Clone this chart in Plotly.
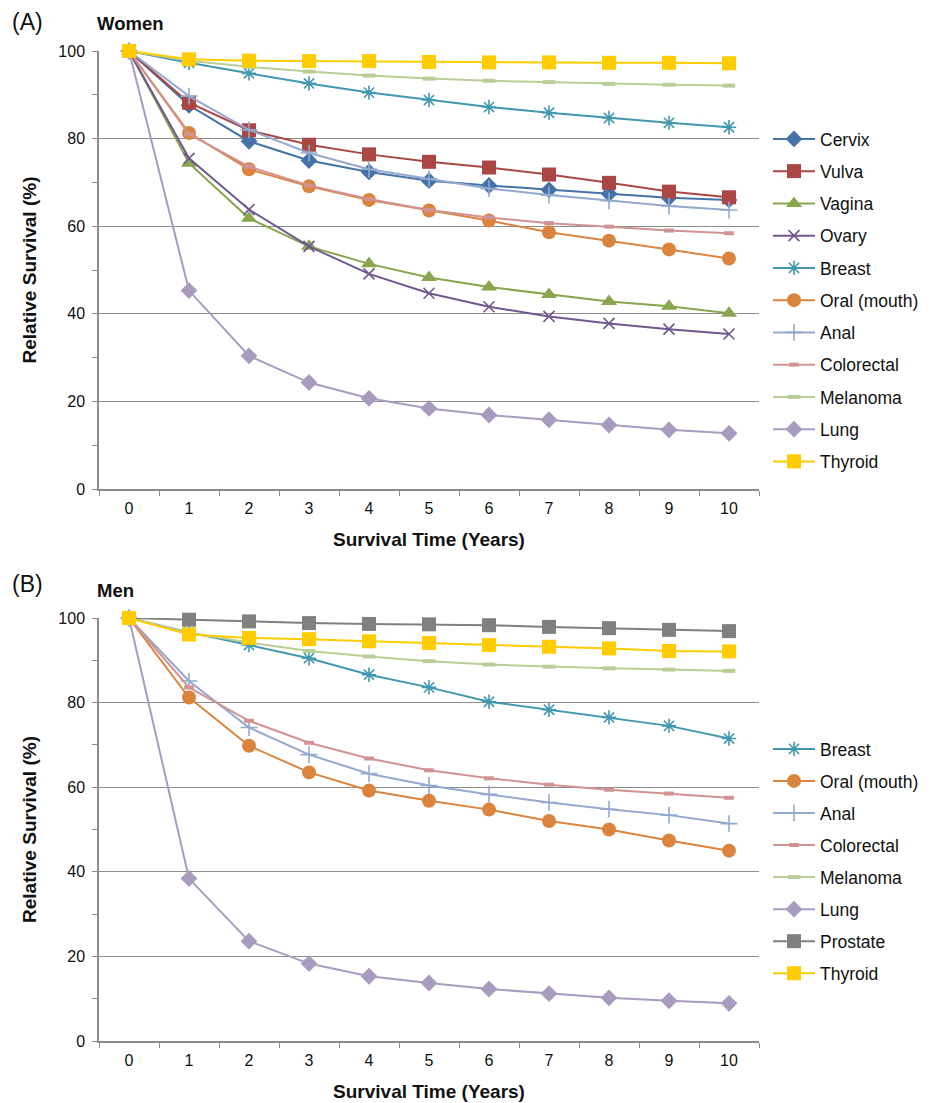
import plotly.graph_objects as go

years = ["0", "1", "2", "3", "4", "5", "6", "7", "8", "9", "10"]

# Women (panel A)
w_cervix = [100, 87.6, 79.4, 75.0, 72.4, 70.4, 69.3, 68.3, 67.4, 66.5, 66.0]
w_vulva = [100, 88.2, 81.9, 78.6, 76.4, 74.7, 73.4, 71.8, 69.9, 67.9, 66.6]
w_vagina = [100, 74.4, 61.8, 55.4, 51.4, 48.3, 46.1, 44.4, 42.8, 41.7, 40.1]
w_ovary = [100, 75.5, 63.8, 55.4, 49.1, 44.7, 41.6, 39.4, 37.8, 36.5, 35.4]
w_breast = [100, 97.3, 94.9, 92.6, 90.5, 88.8, 87.2, 85.9, 84.7, 83.6, 82.6]
w_oral = [100, 81.3, 73.0, 69.1, 66.0, 63.6, 61.3, 58.6, 56.7, 54.7, 52.6]
w_anal = [100, 89.7, 82.0, 76.7, 73.0, 70.8, 68.6, 67.1, 65.8, 64.6, 63.7]
w_colorectal = [100, 81.0, 73.6, 69.3, 66.2, 63.7, 62.0, 60.7, 59.9, 59.0, 58.4]
w_melanoma = [100, 97.8, 96.4, 95.3, 94.4, 93.7, 93.2, 92.9, 92.5, 92.3, 92.1]
w_lung = [100, 45.3, 30.4, 24.3, 20.7, 18.4, 16.9, 15.8, 14.6, 13.5, 12.7]
w_thyroid = [100, 98.1, 97.8, 97.7, 97.7, 97.5, 97.4, 97.4, 97.3, 97.3, 97.2]

# Men (panel B)
m_breast = [100, 96.6, 93.6, 90.5, 86.6, 83.6, 80.2, 78.3, 76.5, 74.5, 71.5]
m_oral = [100, 81.2, 69.8, 63.5, 59.2, 56.8, 54.7, 52.0, 50.0, 47.4, 45.0]
m_anal = [100, 85.1, 74.1, 67.7, 63.2, 60.4, 58.3, 56.4, 54.8, 53.4, 51.4]
m_colorectal = [100, 83.6, 75.7, 70.5, 66.8, 64.0, 62.1, 60.6, 59.4, 58.5, 57.5]
m_melanoma = [100, 96.5, 94.2, 92.2, 90.9, 89.8, 89.0, 88.5, 88.1, 87.8, 87.5]
m_lung = [100, 38.4, 23.6, 18.3, 15.3, 13.7, 12.3, 11.2, 10.2, 9.5, 8.9]
m_prostate = [100, 99.6, 99.2, 98.8, 98.6, 98.5, 98.3, 97.9, 97.6, 97.2, 96.9]
m_thyroid = [100, 96.1, 95.3, 95.0, 94.5, 94.1, 93.6, 93.2, 92.8, 92.2, 92.1]

# name -> color, symbol, size, marker line width
styles = {
    "Cervix": ("#4573A7", "diamond", 13, 0),
    "Vulva": ("#AA4643", "square", 14, 0),
    "Vagina": ("#89A54E", "triangle-up", 14, 0),
    "Ovary": ("#71588F", "x-thin-open", 11, 1.6),
    "Breast": ("#4198AF", "asterisk-open", 12, 1.6),
    "Oral (mouth)": ("#DB843D", "circle", 14, 0),
    "Anal": ("#93A9CF", "cross-thin-open", 12, 1.6),
    "Colorectal": ("#D19392", "line-ew-open", 7, 4),
    "Melanoma": ("#B9CD96", "line-ew-open", 9, 4),
    "Lung": ("#A99BBD", "diamond", 13, 0),
    "Prostate": ("#808080", "square", 14, 0),
    "Thyroid": ("#FFCC00", "square", 14, 0),
}

women = [("Cervix", w_cervix), ("Vulva", w_vulva), ("Vagina", w_vagina), ("Ovary", w_ovary),
         ("Breast", w_breast), ("Oral (mouth)", w_oral), ("Anal", w_anal),
         ("Colorectal", w_colorectal), ("Melanoma", w_melanoma), ("Lung", w_lung),
         ("Thyroid", w_thyroid)]
men = [("Breast", m_breast), ("Oral (mouth)", m_oral), ("Anal", m_anal),
       ("Colorectal", m_colorectal), ("Melanoma", m_melanoma), ("Lung", m_lung),
       ("Prostate", m_prostate), ("Thyroid", m_thyroid)]

FONT = "Liberation Sans, Arial, Helvetica, sans-serif"
fig = go.Figure()

def add(series, xa, ya, leg, grp):
    for name, vals in series:
        color, sym, size, lw = styles[name]
        fig.add_trace(go.Scatter(
            x=years, y=vals, name=name, mode="lines+markers",
            xaxis=xa, yaxis=ya, legend=leg, legendgroup=grp + name,
            line=dict(color=color, width=2),
            marker=dict(color=color, symbol=sym, size=size,
                        line=dict(color=color, width=lw)),
            cliponaxis=False,
        ))

add(women, "x", "y", "legend", "w")
add(men, "x2", "y2", "legend2", "m")

W = 937.0
H = 1103.0
OFF = 8  # page body margin offset

def ydom(top_px, bot_px):
    return [1 - (bot_px - OFF) / H, 1 - (top_px - OFF) / H]

def px(xp):
    return (xp - OFF) / W

def py(yp):
    return 1 - (yp - OFF) / H

grid = "#8c8c8c"
xcommon = dict(type="category", tickson="boundaries", ticks="outside", ticklen=5,
               tickcolor=grid, showline=True, linecolor=grid, linewidth=1.5,
               showgrid=False, automargin=False, ticklabelstandoff=4,
               tickfont=dict(size=16, color="#111", family=FONT),
               range=[-0.5, 10.5], domain=[px(99), px(759)],
               title=dict(text="<b>Survival Time (Years)</b>", standoff=17,
                          font=dict(size=19, color="#111", family=FONT)))
ycommon = dict(range=[0, 100], dtick=20, tick0=0, ticks="outside", ticklen=5,
               tickcolor=grid, showline=True, linecolor=grid, linewidth=1.5,
               showgrid=True, gridcolor=grid, gridwidth=1.3, zeroline=False,
               automargin=False, ticklabelstandoff=4,
               minor=dict(dtick=10, ticks="outside", ticklen=5, tickcolor=grid, showgrid=False),
               tickfont=dict(size=16, color="#111", family=FONT),
               title=dict(text="<b>Relative Survival (%)</b>", standoff=17,
                          font=dict(size=19, color="#111", family=FONT)))

legfont = dict(size=17.5, family=FONT, color="#111")
fig.update_layout(
    width=937, height=1103,
    paper_bgcolor="white", plot_bgcolor="white",
    margin=dict(l=0, r=0, t=0, b=0, autoexpand=False),
    font=dict(family=FONT, color="#111"),
    xaxis=dict(**xcommon, anchor="y"),
    yaxis=dict(**ycommon, anchor="x", domain=ydom(51, 489)),
    xaxis2=dict(**xcommon, anchor="y2"),
    yaxis2=dict(**ycommon, anchor="x2", domain=ydom(618, 1041)),
    legend=dict(x=px(768), y=py(121), xanchor="left", yanchor="top",
                traceorder="grouped", tracegroupgap=6.5,
                font=legfont, itemwidth=42, bgcolor="rgba(0,0,0,0)"),
    legend2=dict(x=px(768), y=py(731), xanchor="left", yanchor="top",
                 traceorder="grouped", tracegroupgap=6.3,
                 font=legfont, itemwidth=42, bgcolor="rgba(0,0,0,0)"),
    showlegend=True,
)

def label(text, x, y, size):
    fig.add_annotation(text=text, x=px(x), y=py(y), xref="paper", yref="paper",
                       xanchor="left", yanchor="middle", showarrow=False,
                       font=dict(size=size, family=FONT, color="#111"))

label("(A)", 10, 22, 23)
label("<b>Women</b>", 95, 24, 18.5)
label("(B)", 10, 584, 23)
label("<b>Men</b>", 95, 590, 18.5)

fig.write_html("out.html")
